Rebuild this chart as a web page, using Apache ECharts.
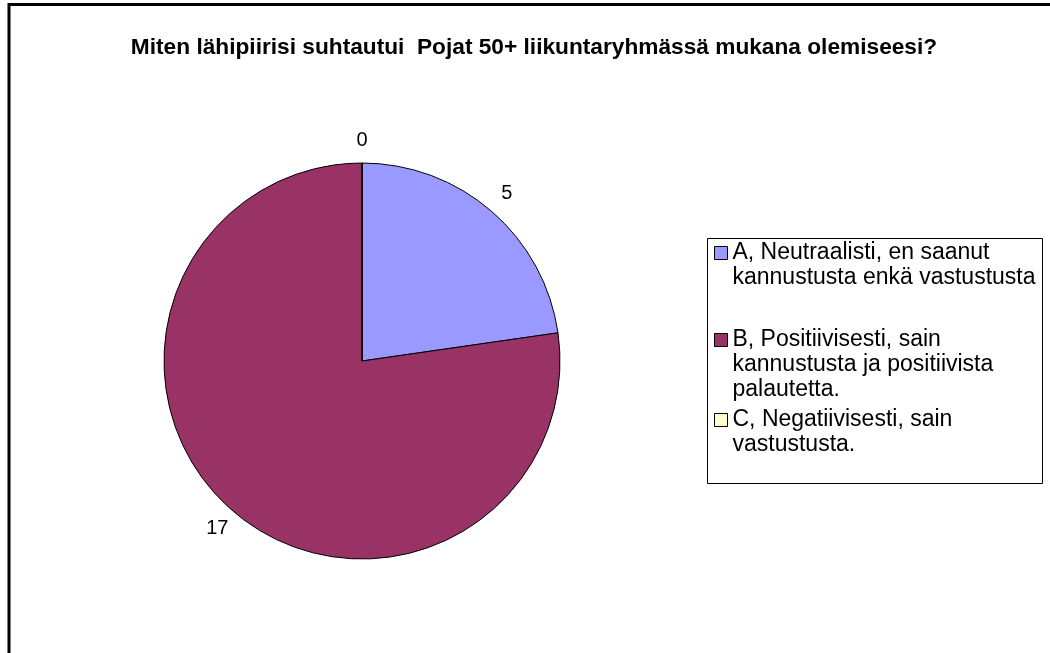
<!DOCTYPE html>
<html>
<head>
<meta charset="utf-8">
<script src="https://cdn.jsdelivr.net/npm/echarts@6/dist/echarts.min.js"></script>
<style>
  html, body { margin: 0; padding: 0; background: #fff; overflow: hidden; }
  #chart { width: 1050px; height: 653px; }
</style>
</head>
<body>
<div id="chart"></div>
<script>
// vastausvaihtoehdot ja vastausmäärät
var categories = [
  'A, Neutraalisti, en saanut\nkannustusta enkä vastustusta',
  'B, Positiivisesti, sain\nkannustusta ja positiivista\npalautetta.',
  'C, Negatiivisesti, sain\nvastustusta.'
];
var counts = [5, 17, 0];
var colors = ['#9999FF', '#993366', '#FFFFCC'];
var legendCenters = [253, 340, 420];

var font = '"Liberation Sans", Arial, sans-serif';
var lineH = 25;

var pieData = categories.map(function (name, i) {
  return { name: name, value: counts[i], itemStyle: { color: colors[i] } };
});

// yksi selite per kohta; tyhjät rivit alkuun, jotta kuvake osuu ensimmäiselle riville
var legends = categories.map(function (name, i) {
  var lines = name.split('\n').length;
  var h = (2 * lines - 1) * lineH;
  return {
    orient: 'vertical',
    left: 714,
    top: legendCenters[i] - h / 2,
    padding: 0,
    itemWidth: 13,
    itemHeight: 13,
    icon: 'rect',
    selectedMode: false,
    itemStyle: { borderColor: '#000', borderWidth: 1 },
    formatter: function (n) {
      return new Array(lines).join('\n') + n;
    },
    textStyle: {
      fontFamily: font,
      fontSize: 23,
      lineHeight: lineH,
      color: '#000'
    },
    data: [name]
  };
});

var myChart = echarts.init(document.getElementById('chart'));
myChart.setOption({
  animation: false,
  title: {
    text: 'Miten lähipiirisi suhtautui  Pojat 50+ liikuntaryhmässä mukana olemiseesi?',
    left: 529,
    top: 31,
    textAlign: 'center',
    textStyle: { fontFamily: font, fontSize: 22.7, fontWeight: 'bold', color: '#000' }
  },
  legend: legends,
  graphic: [
    {
      type: 'rect',
      shape: { x: 9, y: 4.5, width: 1100, height: 700 },
      style: { fill: 'none', stroke: '#000', lineWidth: 3 }
    },
    {
      type: 'rect',
      shape: { x: 707.5, y: 238.5, width: 335, height: 245 },
      style: { fill: 'none', stroke: '#000', lineWidth: 1 }
    }
  ],
  series: [
    {
      name: 'vastaukset',
      type: 'pie',
      center: [362, 361],
      radius: 198,
      startAngle: 90,
      clockwise: true,
      avoidLabelOverlap: false,
      silent: true,
      label: { show: false },
      labelLine: { show: false },
      itemStyle: { borderColor: '#000', borderWidth: 1 },
      data: pieData
    },
    {
      name: 'arvot',
      type: 'pie',
      center: [362, 361],
      radius: [198, 238],
      startAngle: 90,
      clockwise: true,
      avoidLabelOverlap: false,
      silent: true,
      itemStyle: { color: 'rgba(0,0,0,0)', borderWidth: 0 },
      label: {
        show: true,
        position: 'inside',
        formatter: '{c}',
        fontFamily: font,
        fontSize: 20,
        color: '#000'
      },
      labelLine: { show: false },
      data: pieData.map(function (d) {
        return { name: d.name, value: d.value, itemStyle: { color: 'rgba(0,0,0,0)' } };
      })
    }
  ]
});
</script>
</body>
</html>
